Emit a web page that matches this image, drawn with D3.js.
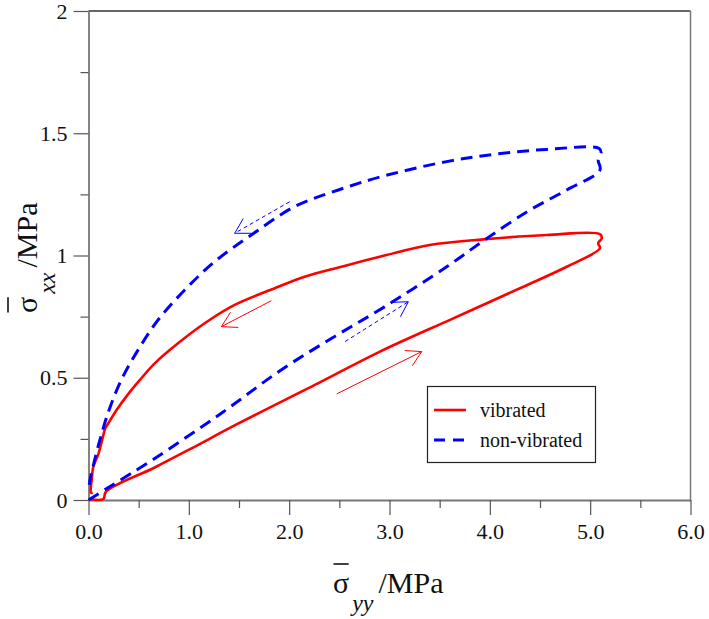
<!DOCTYPE html>
<html>
<head>
<meta charset="utf-8">
<script src="https://cdn.jsdelivr.net/npm/d3@7"></script>
<style>
  body { margin: 0; background: #fff; }
  svg text { font-family: "Liberation Serif", "Times New Roman", serif !important; }
</style>
</head>
<body>
<svg width="709" height="619"></svg>
<script>
// vibrated: loading branch then unloading branch
var vibratedX = [0.005, 0.148, 0.174, 0.66, 1.012, 1.49, 2.32, 2.905, 3.636, 4.30, 4.766, 5.098, 5.08, 5.115, 5.1,
  4.567, 3.935, 3.40, 2.95, 2.52, 2.155, 1.856, 1.457, 1.158, 0.892, 0.66, 0.5, 0.38, 0.28, 0.2, 0.165, 0.148, 0.1, 0.048, 0.032, 0.025, 0.042];
var vibratedY = [0.004, 0.004, 0.034, 0.133, 0.208, 0.312, 0.484, 0.607, 0.743, 0.866, 0.954, 1.03, 1.05, 1.07, 1.087,
  1.084, 1.066, 1.043, 1.0, 0.954, 0.913, 0.866, 0.798, 0.723, 0.641, 0.559, 0.485, 0.425, 0.368, 0.315, 0.29, 0.265, 0.19, 0.136, 0.082, 0.03, 0.03];

// non-vibrated
var nonVibratedX = [0, 0.194, 0.66, 1.324, 1.92, 2.45, 2.95, 3.57, 3.97, 4.40, 4.766, 5.098, 5.08, 5.11, 5.09,
  4.567, 4.07, 3.57, 2.95, 2.49, 2.055, 1.623, 1.258, 0.959, 0.693, 0.493, 0.327, 0.194, 0.095, 0.045, 0.015, 0.0];
var nonVibratedY = [0, 0.05, 0.17, 0.355, 0.532, 0.668, 0.79, 0.954, 1.07, 1.186, 1.268, 1.35, 1.39, 1.42, 1.438,
  1.434, 1.415, 1.384, 1.326, 1.268, 1.20, 1.084, 0.975, 0.859, 0.736, 0.613, 0.491, 0.355, 0.218, 0.136, 0.082, 0.034];

// direction arrows: [tailX, tailY, tipX, tipY]
var redArrows = [[1.822, 0.815, 1.324, 0.709], [2.474, 0.434, 3.321, 0.607]];
var blueArrows = [[2.005, 1.22, 1.457, 1.091], [2.557, 0.648, 3.188, 0.811]];

var xTicks = [0, 1, 2, 3, 4, 5, 6];
var xMinor = [0.5, 1.5, 2.5, 3.5, 4.5, 5.5];
var yTicks = [0, 0.5, 1, 1.5, 2];
var yMinor = [0.25, 0.75, 1.25, 1.75];
var yTickLabels = ["0", "0.5", "1", "1.5", "2"];

var legendNames = ["vibrated", "non-vibrated"];

var svg = d3.select("svg");

var x = d3.scaleLinear().domain([0, 6]).range([88.5, 690.5]);
var y = d3.scaleLinear().domain([0, 2]).range([500, 11]);

// frame (top + right)
svg.append("line").attr("x1", x(0)).attr("x2", x(6)).attr("y1", y(2)).attr("y2", y(2))
  .attr("stroke", "#333").attr("stroke-width", 1.3);
svg.append("line").attr("x1", x(6)).attr("x2", x(6)).attr("y1", y(2)).attr("y2", y(0))
  .attr("stroke", "#777").attr("stroke-width", 1.5);

// x axis
svg.append("g").attr("transform", "translate(0," + y(0) + ")")
  .call(d3.axisBottom(x).tickValues(xTicks).tickSize(15).tickSizeOuter(0).tickPadding(8)
    .tickFormat(d3.format(".1f")));
svg.append("g").attr("transform", "translate(0," + y(0) + ")")
  .call(d3.axisBottom(x).tickValues(xMinor).tickSize(8).tickSizeOuter(0).tickFormat(""))
  .select(".domain").remove();

// y axis
svg.append("g").attr("transform", "translate(" + x(0) + ",0)")
  .call(d3.axisLeft(y).tickValues(yTicks).tickSize(15).tickSizeOuter(0).tickPadding(6)
    .tickFormat((d, i) => yTickLabels[i]));
svg.append("g").attr("transform", "translate(" + x(0) + ",0)")
  .call(d3.axisLeft(y).tickValues(yMinor).tickSize(8).tickSizeOuter(0).tickFormat(""))
  .select(".domain").remove();

svg.selectAll("g").attr("font-family", null);
svg.selectAll(".domain").attr("stroke", "#777").attr("stroke-width", 1.8);
svg.selectAll(".tick line").attr("stroke", "#555").attr("stroke-width", 1.2);
svg.selectAll(".tick text").attr("font-size", 22).attr("fill", "#111");

// curves
var line = d3.line().x((d) => x(d[0])).y((d) => y(d[1])).curve(d3.curveCatmullRom.alpha(0.5));

var redPts = vibratedX.map((v, i) => [v, vibratedY[i]]);
var bluePts = nonVibratedX.map((v, i) => [v, nonVibratedY[i]]);

svg.append("path").attr("d", line(redPts)).attr("fill", "none")
  .attr("stroke", "#ff0000").attr("stroke-width", 2.6).attr("stroke-linejoin", "round");
svg.append("path").attr("d", line(bluePts)).attr("fill", "none")
  .attr("stroke", "#0000ff").attr("stroke-width", 3).attr("stroke-dasharray", "12,7");

// arrows
function drawArrow(a, color, dash) {
  var x1 = x(a[0]), y1 = y(a[1]), x2 = x(a[2]), y2 = y(a[3]);
  var ang = Math.atan2(y1 - y2, x1 - x2);
  var len = 17, spread = Math.PI / 6;
  var g = svg.append("g").attr("stroke", color).attr("stroke-width", 1).attr("fill", "none");
  g.append("line").attr("x1", x1).attr("y1", y1).attr("x2", x2).attr("y2", y2)
    .attr("stroke-dasharray", dash ? "4,3" : null);
  g.append("path").attr("d",
    "M" + (x2 + len * Math.cos(ang - spread)) + "," + (y2 + len * Math.sin(ang - spread)) +
    "L" + x2 + "," + y2 +
    "L" + (x2 + len * Math.cos(ang + spread)) + "," + (y2 + len * Math.sin(ang + spread)));
}
redArrows.forEach((a) => drawArrow(a, "#ff0000", false));
blueArrows.forEach((a) => drawArrow(a, "#0000ff", true));

// legend
var leg = svg.append("g");
leg.append("rect").attr("x", 427.5).attr("y", 386.5).attr("width", 168).attr("height", 76)
  .attr("fill", "#fff").attr("stroke", "#222").attr("stroke-width", 1.2);
leg.append("line").attr("x1", 434).attr("x2", 466).attr("y1", 410).attr("y2", 410)
  .attr("stroke", "#ff0000").attr("stroke-width", 2.6);
leg.append("line").attr("x1", 434).attr("x2", 466).attr("y1", 440).attr("y2", 440)
  .attr("stroke", "#0000ff").attr("stroke-width", 3).attr("stroke-dasharray", "11,8");
leg.selectAll("text.lg").data(legendNames).enter().append("text").attr("class", "lg")
  .attr("x", 480).attr("y", (d, i) => 417 + i * 30)
  .attr("font-size", 20).attr("fill", "#111").text((d) => d);

// axis titles: sigma with overbar, italic subscript, /MPa
function sigmaLabel(g, sub) {
  var s = g.append("text").attr("x", 0).attr("y", 0).attr("font-size", 30).attr("fill", "#111").text("σ");
  var w = s.node().getComputedTextLength();
  g.append("line").attr("x1", 0.5).attr("x2", w - 0.5).attr("y1", -29).attr("y2", -29)
    .attr("stroke", "#111").attr("stroke-width", 1.6);
  var t = g.append("text").attr("x", w + 3).attr("y", 18).attr("font-size", 24)
    .attr("font-style", "italic").attr("fill", "#111").text(sub);
  var w2 = t.node().getComputedTextLength();
  g.append("text").attr("x", w + 3 + w2 + 5).attr("y", 0).attr("font-size", 30).attr("fill", "#111").text("/MPa");
}
sigmaLabel(svg.append("g").attr("transform", "translate(333,593)"), "yy");
sigmaLabel(svg.append("g").attr("transform", "translate(37,313) rotate(-90)"), "xx");
</script>
</body>
</html>
